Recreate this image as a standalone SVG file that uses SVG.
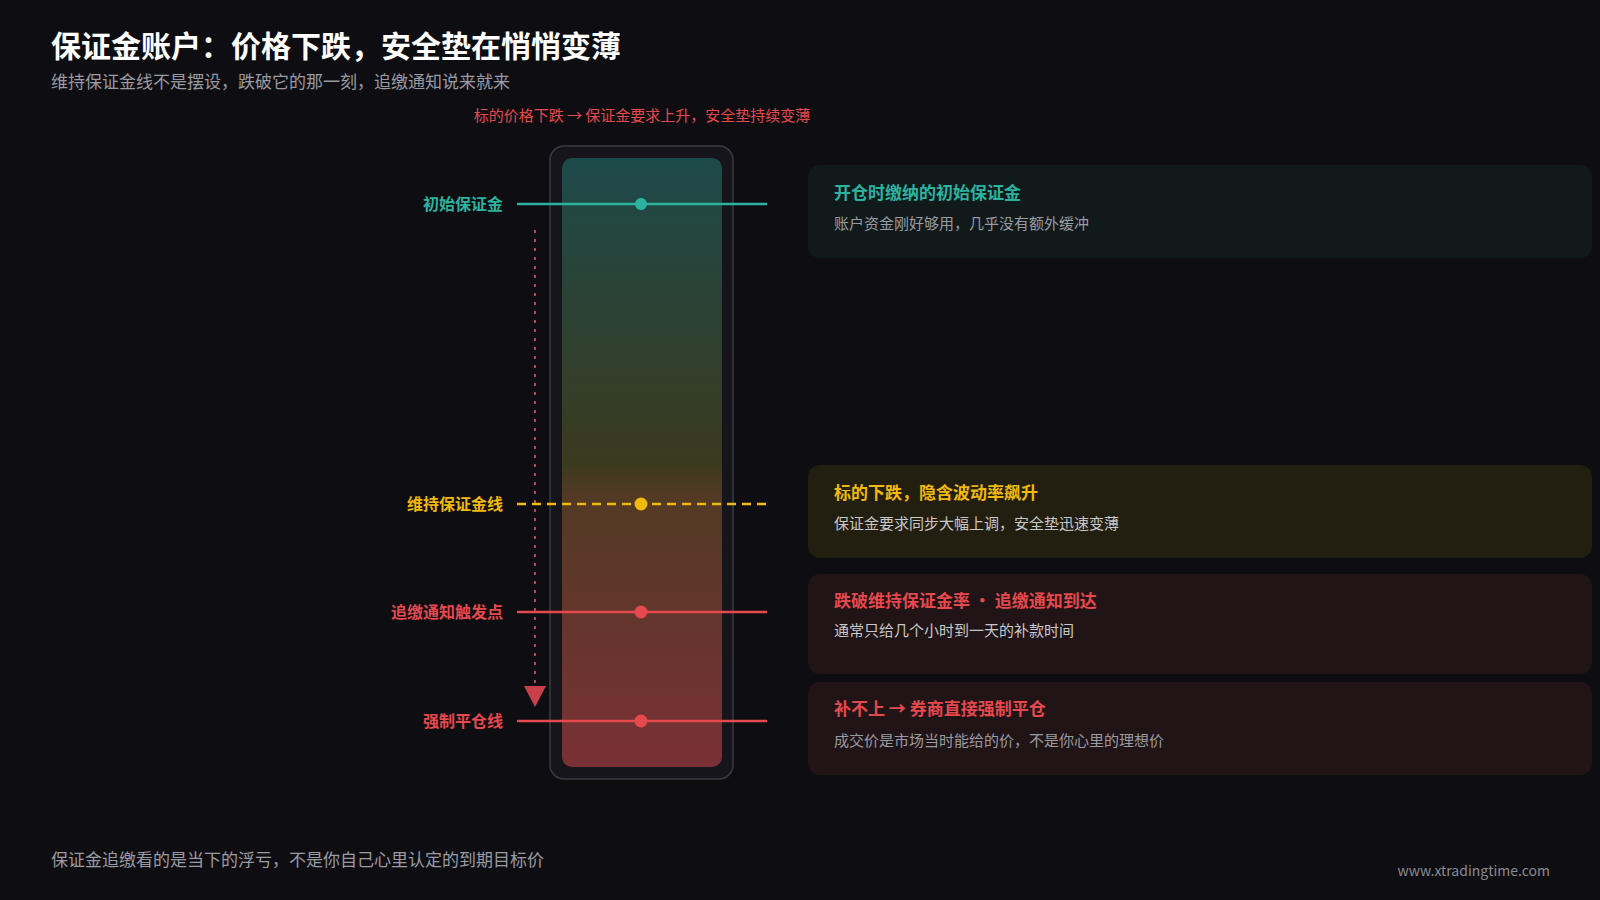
<svg xmlns="http://www.w3.org/2000/svg" width="1600" height="900" viewBox="0 0 1600 900">
<defs>
<linearGradient id="bar" x1="0" y1="0" x2="0" y2="1">
<stop offset="0" stop-color="#1d4a4a"/>
<stop offset="0.5" stop-color="#3b3a1e"/>
<stop offset="0.55" stop-color="#523a24"/>
<stop offset="1" stop-color="#7a3036"/>
</linearGradient>
<style>
text{font-family:"Noto Sans CJK SC","Noto Sans",sans-serif}
.lbl{font-size:16px;font-weight:700;text-anchor:end}
.ct{font-size:17px;font-weight:700}
.cs{font-size:15px;fill:#c8c8cc}
</style>
</defs>
<rect width="1600" height="900" fill="#0e0e12"/>
<text x="51" y="57" font-size="30" font-weight="700" fill="#ffffff">保证金账户：价格下跌，安全垫在悄悄变薄</text>
<text x="51" y="88" font-size="17" fill="#9a9aa2">维持保证金线不是摆设，跌破它的那一刻，追缴通知说来就来</text>
<text x="642" y="121" font-size="15" fill="#e5484d" text-anchor="middle">标的价格下跌 → 保证金要求上升，安全垫持续变薄</text>
<g id="bar-node">
<rect x="550" y="146" width="183" height="633" rx="14" fill="#15151b" stroke="#3a3a44" stroke-width="1.5"/>
<rect x="562" y="158" width="160" height="609" rx="10" fill="url(#bar)"/>
</g>
<g id="connectors">
<line x1="535" y1="230" x2="535" y2="683" stroke="#e5484d" stroke-width="2" stroke-dasharray="3 6" opacity="0.85"/>
<polygon points="524,686 546,686 535,707" fill="#c8404a"/>
<line x1="517" y1="204" x2="767" y2="204" stroke="#2bb3a0" stroke-width="2.5"/>
<line x1="517" y1="504" x2="767" y2="504" stroke="#f0b90b" stroke-width="2.5" stroke-dasharray="9 6"/>
<line x1="517" y1="612" x2="767" y2="612" stroke="#e5484d" stroke-width="2.5"/>
<line x1="517" y1="721" x2="767" y2="721" stroke="#e5484d" stroke-width="2.5"/>
</g>
<g id="initial"><circle cx="641" cy="204" r="6" fill="#2bb3a0"/><text class="lbl" x="503" y="210" fill="#2bb3a0">初始保证金</text></g>
<g id="maintenance"><circle cx="641" cy="504" r="6.5" fill="#f0b90b"/><text class="lbl" x="503" y="510" fill="#f0b90b">维持保证金线</text></g>
<g id="margincall"><circle cx="641" cy="612" r="6.5" fill="#e5484d"/><text class="lbl" x="503" y="618" fill="#e5484d">追缴通知触发点</text></g>
<g id="liquidation"><circle cx="641" cy="721" r="6.5" fill="#e5484d"/><text class="lbl" x="503" y="727" fill="#e5484d">强制平仓线</text></g>
<g id="card1"><rect x="808" y="165" width="784" height="93" rx="12" fill="#111a1b"/>
<text class="ct" x="834" y="199" fill="#2bb3a0">开仓时缴纳的初始保证金</text>
<text class="cs" x="834" y="229" fill="#9a9aa2" style="fill:#9a9aa2">账户资金刚好够用，几乎没有额外缓冲</text></g>
<g id="card2"><rect x="808" y="465" width="784" height="93" rx="12" fill="#231f10"/>
<text class="ct" x="834" y="499" fill="#f0b90b">标的下跌，隐含波动率飙升</text>
<text class="cs" x="834" y="529">保证金要求同步大幅上调，安全垫迅速变薄</text></g>
<g id="card3"><rect x="808" y="574" width="784" height="100" rx="12" fill="#201416"/>
<text class="ct" x="834" y="607" fill="#e5484d">跌破维持保证金率 · 追缴通知到达</text>
<text class="cs" x="834" y="636">通常只给几个小时到一天的补款时间</text></g>
<g id="card4"><rect x="808" y="682" width="784" height="93" rx="12" fill="#201416"/>
<text class="ct" x="834" y="715" fill="#e5484d">补不上 → 券商直接强制平仓</text>
<text class="cs" x="834" y="746" style="fill:#9a9aa2">成交价是市场当时能给的价，不是你心里的理想价</text></g>
<text x="51" y="866" font-size="17" fill="#9a9aa2">保证金追缴看的是当下的浮亏，不是你自己心里认定的到期目标价</text>
<text x="1550" y="876" font-size="14" fill="#8a8a92" text-anchor="end">www.xtradingtime.com</text>
</svg>
